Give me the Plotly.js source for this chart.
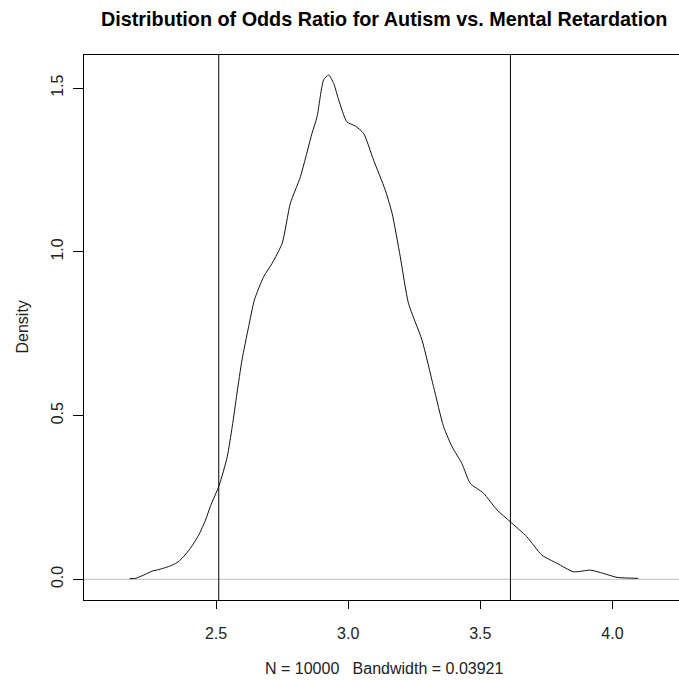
<!DOCTYPE html>
<html>
<head>
<meta charset="utf-8">
<script src="https://cdn.plot.ly/plotly-3.0.1.min.js"></script>
<style>html,body{margin:0;padding:0;background:#fff;overflow:hidden;}</style>
</head>
<body>
<div id="chart" style="width:679px;height:681px;"></div>
<script>
// Density estimate of the odds ratio
const oddsRatio = [2.173, 2.195, 2.226, 2.258, 2.289, 2.327, 2.352, 2.371, 2.403, 2.434, 2.460, 2.478, 2.512,
  2.542, 2.561, 2.579, 2.598, 2.623, 2.645, 2.680, 2.712, 2.750, 2.781, 2.819, 2.863, 2.882, 2.907, 2.926,
  2.945, 2.964, 2.995, 3.027, 3.058, 3.096, 3.140, 3.166, 3.197, 3.228, 3.279, 3.323, 3.361, 3.393, 3.430,
  3.462, 3.512, 3.563, 3.613, 3.676, 3.733, 3.790, 3.853, 3.916, 3.966, 4.017, 4.098];
const density = [0.002, 0.003, 0.013, 0.025, 0.031, 0.041, 0.051, 0.064, 0.095, 0.135, 0.181, 0.222, 0.288,
  0.374, 0.466, 0.568, 0.670, 0.771, 0.853, 0.924, 0.965, 1.026, 1.148, 1.229, 1.362, 1.412, 1.525, 1.540,
  1.514, 1.464, 1.397, 1.384, 1.362, 1.280, 1.189, 1.118, 0.985, 0.843, 0.731, 0.588, 0.466, 0.405, 0.354,
  0.293, 0.263, 0.212, 0.176, 0.130, 0.074, 0.049, 0.023, 0.028, 0.018, 0.006, 0.003];
// Interval bounds marked by vertical lines
const intervalBounds = [2.510, 3.614];
const xTicks = [2.5, 3.0, 3.5, 4.0];
const xTickLabels = ["2.5", "3.0", "3.5", "4.0"];
const yTicks = [0.0, 0.5, 1.0, 1.5];
const yTickLabels = ["0.0", "0.5", "1.0", "1.5"];
const titleText = "Distribution of Odds Ratio for Autism vs. Mental Retardation";
const subText = "N = 10000\u00A0\u00A0\u00A0Bandwidth = 0.03921";
const yLabel = "Density";

const FONT = "'Liberation Sans', Arial, sans-serif";
const L = 84, T = 55, W = 679, H = 681, B = 81;
const plotW = W - L;
const px2paperX = p => (p - L) / plotW;

const shapes = [
  {type: "line", xref: "paper", yref: "y", x0: 0, x1: 1, y0: 0, y1: 0,
   line: {color: "#bebebe", width: 1}, layer: "below"}
];
intervalBounds.forEach(v => shapes.push({
  type: "line", xref: "x", yref: "paper", x0: v, x1: v, y0: 0, y1: 1,
  line: {color: "#000", width: 1}
}));

const data = [{
  x: oddsRatio, y: density, type: "scatter", mode: "lines",
  line: {color: "#111", width: 1, shape: "spline", smoothing: 0.6},
  hoverinfo: "skip"
}];

const layout = {
  width: W, height: H,
  margin: {l: L, r: 0, t: T, b: B, pad: 0},
  paper_bgcolor: "#fff", plot_bgcolor: "#fff",
  showlegend: false,
  font: {family: FONT, size: 16, color: "#222"},
  xaxis: {
    range: [2.0, 4.252], tickmode: "array", tickvals: xTicks, ticktext: xTickLabels,
    showgrid: false, zeroline: false, showline: true, mirror: true,
    linecolor: "#000", linewidth: 1, ticks: "outside", ticklen: 8, tickcolor: "#000",
    tickwidth: 1, ticklabelstandoff: 11, tickfont: {family: FONT, size: 16, color: "#222"}
  },
  yaxis: {
    range: [-0.0632, 1.601], tickmode: "array", tickvals: yTicks, ticktext: yTickLabels,
    showgrid: false, zeroline: false, showline: true, mirror: false,
    linecolor: "#000", linewidth: 1, ticks: "outside", ticklen: 10, tickcolor: "#000",
    tickwidth: 1, tickangle: -90, ticklabelstandoff: 4, tickfont: {family: FONT, size: 16, color: "#222"}
  },
  shapes: shapes,
  annotations: [
    {text: "<b>" + titleText + "</b>", xref: "paper", yref: "paper",
     x: px2paperX(384), y: 1 + (T - 19) / (H - T - B), xanchor: "center", yanchor: "middle",
     showarrow: false, font: {family: FONT, size: 19.8, color: "#000"}},
    {text: subText, xref: "paper", yref: "paper",
     x: px2paperX(384), y: -(668 - (H - B)) / (H - T - B), xanchor: "center", yanchor: "middle",
     showarrow: false, font: {family: FONT, size: 16, color: "#222"}},
    {text: yLabel, xref: "paper", yref: "paper", textangle: -90,
     x: px2paperX(22), y: 0.5, xanchor: "center", yanchor: "middle",
     showarrow: false, font: {family: FONT, size: 16, color: "#222"}}
  ]
};

Plotly.newPlot("chart", data, layout, {displayModeBar: false, staticPlot: true});
</script>
</body>
</html>
